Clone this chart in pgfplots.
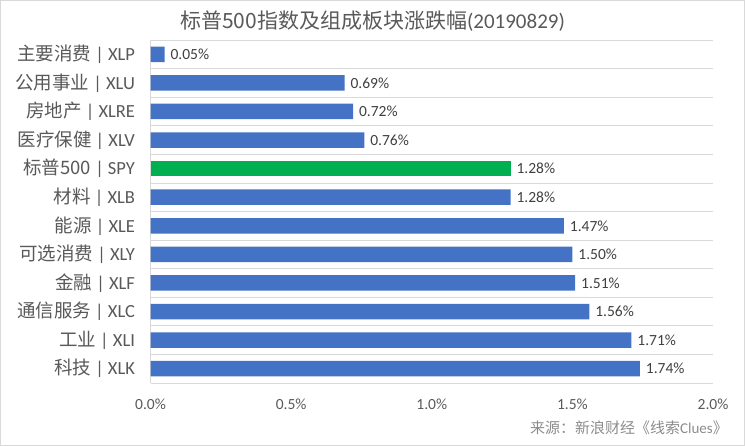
\documentclass[border=0pt]{standalone}
\usepackage{pgfplots}
\pgfplotsset{compat=1.18}
\usepackage{fontspec}
\setmainfont{Carlito}
\newfontfamily\cjk{Noto Sans CJK SC}
\definecolor{barblue}{HTML}{4472C4}
\definecolor{bargreen}{HTML}{00B050}
\definecolor{txt}{HTML}{595959}
\definecolor{lbl}{HTML}{404040}
\definecolor{gridc}{HTML}{D9D9D9}
\definecolor{src}{HTML}{8C8C8C}
\begin{document}
\begin{tikzpicture}
\useasboundingbox (0,0) rectangle (745bp,446bp);
\draw[gridc, line width=0.8bp] (0.5bp,0.5bp) rectangle (744.5bp,445.5bp);
\node[text=txt, font=\fontsize{21bp}{24bp}\selectfont] at (372.5bp,425bp) {{\cjk 标普500指数及组成板块涨跌幅}(20190829)};
\node[anchor=east, inner sep=0pt, text=src, font=\fontsize{15bp}{18bp}\selectfont] at (728bp,18bp) {{\cjk 来源：新浪财经《线索}Clues{\cjk 》}};
\begin{axis}[
  at={(150.5bp,63bp)}, anchor=south west,
  scale only axis, width=562.5bp, height=343bp,
  xbar, bar width=15.5bp,
  xmin=0, xmax=2, ymin=-0.5, ymax=11.5,
  y dir=reverse,
  clip=false,
  axis x line*=bottom, axis y line*=left,
  x axis line style={draw=none},
  y axis line style={draw=gridc, line width=0.8bp},
  xtick={0,0.5,1,1.5,2},
  xticklabel={\pgfmathprintnumber[fixed,fixed zerofill,precision=1]{\tick}\%},
  /pgf/number format/assume math mode=true,
  xticklabel style={text=txt, font=\fontsize{15.5bp}{18bp}\selectfont, yshift=-12bp},
  ytick={0,...,11},
  yticklabels={
    {{\cjk 主要消费} | XLP},
    {{\cjk 公用事业} | XLU},
    {{\cjk 房地产} | XLRE},
    {{\cjk 医疗保健} | XLV},
    {{\cjk 标普500} | SPY},
    {{\cjk 材料} | XLB},
    {{\cjk 能源} | XLE},
    {{\cjk 可选消费} | XLY},
    {{\cjk 金融} | XLF},
    {{\cjk 通信服务} | XLC},
    {{\cjk 工业} | XLI},
    {{\cjk 科技} | XLK}},
  yticklabel style={text=txt, font=\fontsize{18.5bp}{21bp}\selectfont, xshift=-12bp},
  major tick length=0, minor tick length=0,
  minor ytick={-0.5,0.5,...,11.5},
  yminorgrids=true,
  minor grid style={draw=gridc, line width=0.8bp},
  nodes near coords={\pgfmathprintnumber[fixed,fixed zerofill,precision=2]{\pgfplotspointmeta}\%},
  nodes near coords style={text=lbl, font=\fontsize{15.5bp}{18bp}\selectfont, anchor=west, xshift=2.5bp},
]
\addplot[fill=barblue, draw=none, bar shift=0pt] coordinates {
  (0.05,0) (0.69,1) (0.72,2) (0.76,3)
  (1.28,5) (1.47,6) (1.50,7) (1.51,8) (1.56,9) (1.71,10) (1.74,11)
};
\addplot[fill=bargreen, draw=none, bar shift=0pt] coordinates {
  (1.28,4)
};
\end{axis}
\end{tikzpicture}
\end{document}
